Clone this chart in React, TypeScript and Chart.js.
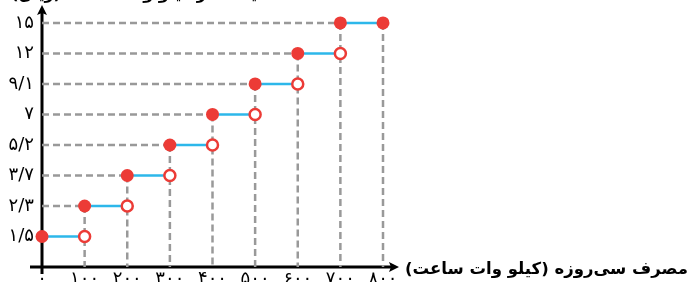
import { useEffect, useRef } from "react";
import { Chart, registerables } from "chart.js";

Chart.register(...registerables);

// consumption breakpoints (kWh)
const consumption = [0, 100, 200, 300, 400, 500, 600, 700, 800];
const xTickLabels = ["۰", "۱۰۰", "۲۰۰", "۳۰۰", "۴۰۰", "۵۰۰", "۶۰۰", "۷۰۰", "۸۰۰"];
// price per step (as shown), one per 100 kWh bracket
const priceValues = [1.5, 2.3, 3.7, 5.2, 7, 9.1, 12, 15];
const priceLabels = ["۱/۵", "۲/۳", "۳/۷", "۵/۲", "۷", "۹/۱", "۱۲", "۱۵"];
const xTitle = "مصرف سی‌روزه (کیلو وات ساعت)";
const yTitle = "قیمت هر کیلو وات ساعت (ریال)";

const RED = "#EC3B36";
const BLUE = "#2DB7EA";
const GRAY = "#999999";
const FONT = "'DejaVu Sans', sans-serif";

export default function App() {
  const ref = useRef<HTMLCanvasElement>(null);
  useEffect(() => {
    document.body.style.margin = "0";
    const ctx = ref.current!.getContext("2d")!;
    const datasets: any[] = [];
    const guide = (pts: any[]) => ({
      data: pts,
      borderColor: GRAY, borderWidth: 2.5, borderDash: [7, 4],
      pointRadius: 0, order: 10, clip: false,
    });
    priceValues.forEach((_, i) => {
      const lvl = i + 1;
      const x0 = consumption[i];
      const x1 = consumption[i + 1];
      const last = i === priceValues.length - 1;
      if (x0 > 0) {
        datasets.push(guide([{ x: 0, y: lvl }, { x: x0, y: lvl }]));
        datasets.push(guide([{ x: x0, y: lvl }, { x: x0, y: 0 }]));
      }
      if (last) datasets.push(guide([{ x: x1, y: lvl }, { x: x1, y: 0 }]));
      datasets.push({
        data: [{ x: x0, y: lvl }, { x: x1, y: lvl }],
        borderColor: BLUE, borderWidth: 2.5,
        pointRadius: [6.5, last ? 6.5 : 5.5],
        pointBackgroundColor: [RED, last ? RED : "#ffffff"],
        pointBorderColor: RED,
        pointBorderWidth: [0, last ? 0 : 2.5],
        order: 1,
        clip: false,
      });
    });

    const axesPlugin = {
      id: "axesArrows",
      beforeDatasetsDraw(chart: any) {
        const c = chart.ctx;
        const xs = chart.scales.x;
        const ys = chart.scales.y;
        const x0 = xs.getPixelForValue(0);
        const y0 = ys.getPixelForValue(0);
        c.save();
        c.strokeStyle = "#000";
        c.fillStyle = "#000";
        c.lineWidth = 3;
        c.beginPath();
        c.moveTo(30, y0);
        c.lineTo(394, y0);
        c.stroke();
        c.beginPath();
        c.moveTo(399, y0);
        c.lineTo(389, y0 - 5);
        c.lineTo(391, y0);
        c.lineTo(389, y0 + 5);
        c.closePath();
        c.fill();
        c.beginPath();
        c.moveTo(x0, y0 + 7);
        c.lineTo(x0, 11);
        c.stroke();
        c.beginPath();
        c.moveTo(x0, 5);
        c.lineTo(x0 - 5, 15);
        c.lineTo(x0, 13);
        c.lineTo(x0 + 5, 15);
        c.closePath();
        c.fill();
        c.direction = "rtl";
        c.textAlign = "right";
        c.textBaseline = "alphabetic";
        c.font = `bold 16.5px ${FONT}`;
        c.fillText(xTitle, 688, 274);
        c.font = `bold 16px ${FONT}`;
        c.fillText(yTitle, 268, -1);
        c.restore();
      },
    };

    const chart = new Chart(ctx, {
      type: "line",
      data: { datasets },
      options: {
        animation: false,
        responsive: false,
        maintainAspectRatio: false,
        layout: { padding: { left: 0, right: 308, top: 0, bottom: 0 } },
        plugins: { legend: { display: false }, tooltip: { enabled: false } },
        scales: {
          x: {
            type: "linear",
            min: 0,
            max: 800,
            grid: { display: false, drawTicks: false },
            border: { display: false },
            afterBuildTicks: (s: any) => {
              s.ticks = consumption.map((v) => ({ value: v }));
            },
            afterFit: (s: any) => {
              s.height = 15;
              s.paddingLeft = 0;
              s.paddingRight = 0;
            },
            ticks: {
              padding: 2,
              color: "#000",
              font: { family: FONT, size: 18 },
              maxRotation: 0,
              autoSkip: false,
              callback: (_v: any, i: number) => xTickLabels[i],
            },
          },
          y: {
            type: "linear",
            min: 0,
            max: 8.49,
            grid: { display: false, drawTicks: false },
            border: { display: false },
            afterBuildTicks: (s: any) => {
              s.ticks = priceLabels.map((_, i) => ({ value: i + 1 }));
            },
            afterFit: (s: any) => {
              s.width = 42;
              s.paddingTop = 0;
              s.paddingBottom = 0;
            },
            ticks: {
              padding: 8,
              color: "#000",
              font: { family: FONT, size: 18 },
              autoSkip: false,
              callback: (v: any) => priceLabels[Math.round(v) - 1] ?? "",
            },
          },
        },
      },
      plugins: [axesPlugin],
    });
    return () => chart.destroy();
  }, []);
  return (
    <div style={{ position: "fixed", left: 0, top: 0, width: 691, height: 282 }}>
      <canvas ref={ref} width={691} height={282} style={{ width: 691, height: 282 }} />
    </div>
  );
}
